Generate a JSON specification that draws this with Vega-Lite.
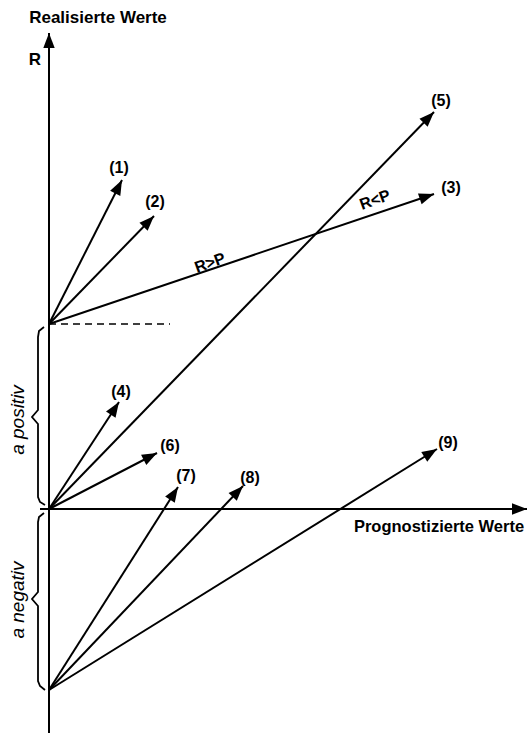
{
  "$schema": "https://vega.github.io/schema/vega-lite/v6.json",
  "width": 529,
  "height": 735,
  "autosize": {"type": "fit", "contains": "padding"},
  "padding": 0,
  "background": "white",
  "config": {"view": {"stroke": null}},
  "datasets": {
    "segs": [
      {"id": "xaxis", "x": -9, "y": 0, "x2": 478, "y2": 0},
      {"id": "yaxis", "x": 0, "y": -224, "x2": 0, "y2": 476},
      {"id": "1", "x": 0, "y": 185, "x2": 73, "y2": 329},
      {"id": "2", "x": 0, "y": 185, "x2": 105, "y2": 293},
      {"id": "3", "x": 0, "y": 185, "x2": 385, "y2": 315},
      {"id": "5", "x": 0, "y": 0, "x2": 385, "y2": 397},
      {"id": "4", "x": 0, "y": 0, "x2": 70, "y2": 107},
      {"id": "6", "x": 0, "y": 0, "x2": 108, "y2": 56},
      {"id": "7", "x": 0, "y": -181, "x2": 129, "y2": 22},
      {"id": "8", "x": 0, "y": -181, "x2": 194, "y2": 23},
      {"id": "9", "x": 0, "y": -181, "x2": 388, "y2": 60}
    ]
  },
  "encoding": {
    "x": {"field": "x", "type": "quantitative", "scale": {"domain": [-49, 480], "nice": false, "zero": false}, "axis": null},
    "y": {"field": "y", "type": "quantitative", "scale": {"domain": [-226, 509], "nice": false, "zero": false}, "axis": null}
  },
  "layer": [
    {
      "data": {"name": "segs"},
      "mark": {"type": "rule", "strokeWidth": 2, "color": "black"},
      "encoding": {
        "x2": {"field": "x2"},
        "y2": {"field": "y2"}
      }
    },
    {
      "data": {"name": "segs"},
      "transform": [
        {"calculate": "atan2(datum.x2 - datum.x, datum.y2 - datum.y) * 180 / PI", "as": "ang"}
      ],
      "mark": {"type": "point", "shape": "M0,0L-0.38,1L0.38,1Z", "filled": true, "color": "black", "opacity": 1, "size": 900},
      "encoding": {
        "x": {"field": "x2", "type": "quantitative", "scale": {"domain": [-49, 480], "nice": false, "zero": false}, "axis": null},
        "y": {"field": "y2", "type": "quantitative", "scale": {"domain": [-226, 509], "nice": false, "zero": false}, "axis": null},
        "angle": {"field": "ang", "type": "quantitative", "scale": null}
      }
    },
    {
      "data": {"values": [{"x": 0, "y": 185, "x2": 121, "y2": 185}]},
      "mark": {"type": "rule", "strokeWidth": 1.6, "color": "black", "strokeDash": [7, 5]},
      "encoding": {
        "x2": {"field": "x2"},
        "y2": {"field": "y2"}
      }
    },
    {
      "data": {"values": [
        {"g": "pos", "o": 1, "x": -5, "y": 182},
        {"g": "pos", "o": 2, "x": -10, "y": 178},
        {"g": "pos", "o": 3, "x": -11, "y": 172},
        {"g": "pos", "o": 4, "x": -11, "y": 99},
        {"g": "pos", "o": 5, "x": -17, "y": 92},
        {"g": "pos", "o": 6, "x": -11, "y": 85},
        {"g": "pos", "o": 7, "x": -11, "y": 12},
        {"g": "pos", "o": 8, "x": -9, "y": 7},
        {"g": "pos", "o": 9, "x": -4, "y": 4},
        {"g": "neg", "o": 1, "x": -5, "y": -4},
        {"g": "neg", "o": 2, "x": -10, "y": -8},
        {"g": "neg", "o": 3, "x": -11, "y": -13},
        {"g": "neg", "o": 4, "x": -11, "y": -83},
        {"g": "neg", "o": 5, "x": -17, "y": -90},
        {"g": "neg", "o": 6, "x": -11, "y": -97},
        {"g": "neg", "o": 7, "x": -11, "y": -172},
        {"g": "neg", "o": 8, "x": -9, "y": -177},
        {"g": "neg", "o": 9, "x": -4, "y": -181}
      ]},
      "mark": {"type": "line", "strokeWidth": 1.8, "color": "black"},
      "encoding": {
        "detail": {"field": "g"},
        "order": {"field": "o", "type": "quantitative"}
      }
    },
    {
      "data": {"values": [
        {"t": "(1)", "x": 70, "y": 341},
        {"t": "(2)", "x": 106, "y": 307},
        {"t": "(3)", "x": 402, "y": 321},
        {"t": "(5)", "x": 392, "y": 408},
        {"t": "(4)", "x": 72, "y": 117},
        {"t": "(6)", "x": 121, "y": 63},
        {"t": "(7)", "x": 137, "y": 33},
        {"t": "(8)", "x": 201, "y": 31},
        {"t": "(9)", "x": 399, "y": 66}
      ]},
      "mark": {"type": "text", "fontSize": 16, "fontWeight": "bold", "font": "Liberation Sans", "color": "black", "baseline": "middle", "align": "center"},
      "encoding": {"text": {"field": "t"}}
    },
    {
      "data": {"values": [
        {"t": "Realisierte Werte", "x": 49, "y": 491, "s": "a"},
        {"t": "R", "x": -14, "y": 449, "s": "a"}
      ]},
      "mark": {"type": "text", "fontSize": 17, "fontWeight": "bold", "font": "Liberation Sans", "color": "black", "baseline": "middle", "align": "center"},
      "encoding": {"text": {"field": "t"}}
    },
    {
      "data": {"values": [
        {"t": "Prognostizierte Werte", "x": 390, "y": -18}
      ]},
      "mark": {"type": "text", "fontSize": 16.5, "fontWeight": "bold", "font": "Liberation Sans", "color": "black", "baseline": "middle", "align": "center"},
      "encoding": {"text": {"field": "t"}}
    },
    {
      "data": {"values": [
        {"t": "a positiv", "x": -31, "y": 89},
        {"t": "a negativ", "x": -31, "y": -91}
      ]},
      "mark": {"type": "text", "fontSize": 19, "fontStyle": "italic", "font": "Liberation Sans", "color": "black", "baseline": "middle", "align": "center", "angle": 270},
      "encoding": {"text": {"field": "t"}}
    },
    {
      "data": {"values": [
        {"t": "R>P", "x": 161, "y": 246},
        {"t": "R<P", "x": 326, "y": 309}
      ]},
      "mark": {"type": "text", "fontSize": 16, "fontWeight": "bold", "font": "Liberation Sans", "color": "black", "baseline": "middle", "align": "center", "angle": 340},
      "encoding": {"text": {"field": "t"}}
    }
  ]
}
